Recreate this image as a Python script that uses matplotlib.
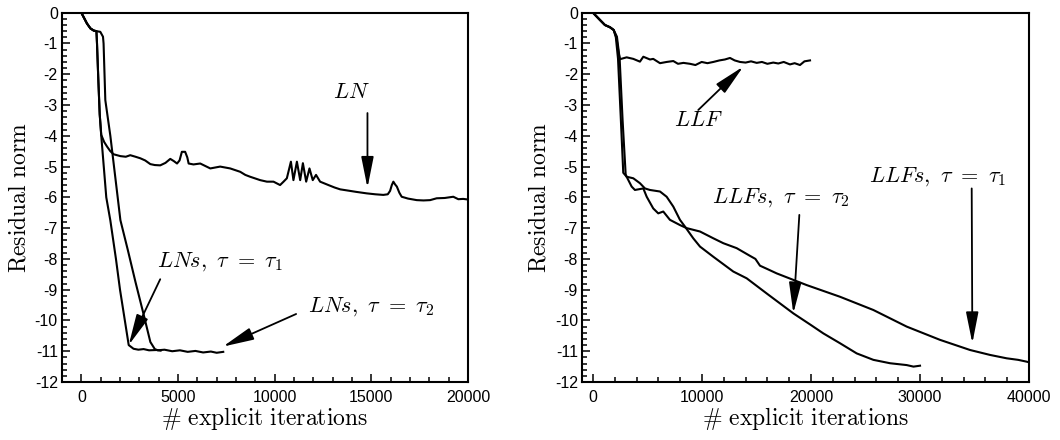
import matplotlib
matplotlib.use("Agg")
import matplotlib.pyplot as plt
from matplotlib.ticker import MultipleLocator

plt.rcParams['font.family'] = ['Liberation Sans', 'DejaVu Sans']
plt.rcParams['mathtext.fontset'] = 'cm'
plt.rcParams['axes.unicode_minus'] = False

# ---- left panel data ----
ln_x = [0, 290, 470, 640, 780, 810, 880, 950, 1030, 1180, 1330, 1500, 1670, 2020, 2300,
        2530, 2800, 3050, 3300, 3570, 3800, 4080, 4350, 4600, 4780, 4950, 5080, 5200, 5370,
        5480, 5550, 5800, 6150, 6670, 7180, 7700, 8220, 8480, 8730, 9250, 9600, 9940, 10280,
        10460, 10630, 10840, 10970, 11150, 11320, 11460, 11630, 11800, 11970, 12140, 12350,
        12780, 13100, 13390, 13800, 14200, 14760, 15200, 15620, 15850, 15970, 16060, 16140,
        16230, 16320, 16450, 16570, 16900, 17350, 17700, 18040, 18380, 18800, 19240, 19500,
        19750, 20000]
ln_y = [0, -0.35, -0.51, -0.58, -0.6, -1.0, -2.2, -3.3, -3.97, -4.2, -4.35, -4.5, -4.6,
        -4.66, -4.68, -4.63, -4.68, -4.73, -4.8, -4.92, -4.95, -4.96, -4.88, -4.75, -4.82,
        -4.9, -4.8, -4.52, -4.52, -4.7, -4.9, -4.93, -4.9, -5.06, -5.0, -5.06, -5.17, -5.27,
        -5.33, -5.44, -5.49, -5.49, -5.6, -5.49, -5.38, -4.84, -5.44, -4.84, -5.44, -4.89,
        -5.49, -5.06, -5.44, -5.27, -5.49, -5.6, -5.68, -5.74, -5.78, -5.82, -5.87, -5.9,
        -5.92, -5.9, -5.79, -5.6, -5.49, -5.58, -5.65, -5.85, -5.98, -6.04, -6.09, -6.1,
        -6.09, -6.03, -6.02, -5.98, -6.06, -6.05, -6.07]

lns1_x = [0, 290, 470, 640, 780, 810, 880, 950, 1030, 1290, 1500, 1790, 2000, 2250, 2450,
          2700, 2950, 3220, 3500, 3910, 4100]
lns1_y = [0, -0.35, -0.51, -0.58, -0.6, -1.0, -2.2, -3.3, -4.0, -6.0, -6.75, -8.0, -9.0,
          -10.0, -10.8, -10.92, -10.95, -10.93, -10.97, -10.96, -10.98]

lns2_x = [0, 290, 470, 640, 780, 980, 1120, 1150, 1240, 1500, 1880, 2020, 2400, 2800,
          3200, 3570, 3800, 3950, 4300, 4700, 5100, 5500, 5900, 6300, 6700, 7000, 7340]
lns2_y = [0, -0.35, -0.51, -0.58, -0.6, -0.62, -0.78, -1.0, -2.84, -4.0, -6.0, -6.74,
          -7.7, -8.75, -9.75, -10.7, -10.93, -10.97, -10.95, -11.0, -10.97, -11.02, -10.99,
          -11.04, -11.01, -11.05, -11.02]

# ---- right panel data ----
llf_x = [0, 600, 1100, 1550, 1900, 2150, 2350, 2480, 3090, 3700, 4310, 4620, 5230, 5530,
         6150, 6760, 7370, 7800, 8300, 8900, 9400, 9970, 10500, 11040, 11600, 12100, 12570,
         13000, 13490, 14000, 14500, 15020, 15500, 16000, 16540, 17000, 17500, 18070, 18500,
         18990, 19400, 19910]
llf_y = [0, -0.22, -0.4, -0.47, -0.56, -0.8, -1.3, -1.51, -1.45, -1.5, -1.59, -1.43,
         -1.52, -1.5, -1.64, -1.6, -1.57, -1.66, -1.63, -1.66, -1.70, -1.60, -1.64, -1.60,
         -1.55, -1.52, -1.47, -1.55, -1.60, -1.62, -1.58, -1.63, -1.60, -1.66, -1.62, -1.65,
         -1.60, -1.68, -1.64, -1.70, -1.58, -1.55]

llfs2_x = [0, 600, 1100, 1550, 1900, 2100, 2300, 2550, 2780, 3090, 3700, 4310, 4770, 5230,
           6150, 6760, 7370, 7980, 8440, 9200, 9820, 11040, 12870, 14100, 16000, 18380,
           20000, 21130, 22660, 24190, 25720, 27250, 28780, 29400, 30000]
llfs2_y = [0, -0.22, -0.4, -0.47, -0.56, -0.8, -1.5, -3.4, -5.2, -5.33, -5.38, -5.54,
           -5.71, -5.76, -5.81, -5.98, -6.30, -6.73, -6.95, -7.33, -7.60, -7.93, -8.41,
           -8.63, -9.14, -9.77, -10.15, -10.42, -10.74, -11.07, -11.28, -11.39, -11.45,
           -11.5, -11.47]

llfs1_x = [0, 600, 1100, 1550, 1900, 2200, 2450, 2720, 3000, 3090, 3550, 3850, 4620, 4930,
           5530, 5990, 6450, 7060, 7980, 8600, 9820, 11040, 11960, 13180, 14400, 14900,
           15320, 16000, 16850, 19600, 22660, 25720, 28780, 31830, 34590, 36420, 37950,
           39000, 39790, 40000]
llfs1_y = [0, -0.22, -0.4, -0.47, -0.56, -0.78, -1.5, -3.5, -5.25, -5.33, -5.65, -5.76,
           -5.71, -5.98, -6.36, -6.52, -6.46, -6.73, -6.90, -7.00, -7.11, -7.33, -7.49,
           -7.65, -7.90, -8.0, -8.22, -8.33, -8.47, -8.85, -9.23, -9.66, -10.2, -10.63,
           -10.96, -11.12, -11.23, -11.28, -11.34, -11.36]

fig = plt.figure(figsize=(10.6, 4.4), dpi=100)
ax1 = fig.add_axes([0.0585, 0.1318, 0.3830, 0.8393])
ax2 = fig.add_axes([0.5491, 0.1318, 0.4217, 0.8393])

lw = 1.5
ax1.plot(ln_x, ln_y, color='k', lw=lw)
ax1.plot(lns1_x, lns1_y, color='k', lw=lw)
ax1.plot(lns2_x, lns2_y, color='k', lw=lw)

ax2.plot(llf_x, llf_y, color='k', lw=lw)
ax2.plot(llfs2_x, llfs2_y, color='k', lw=lw)
ax2.plot(llfs1_x, llfs1_y, color='k', lw=lw)

ax1.set_xlim(-1000, 20000)
ax2.set_xlim(-1000, 40000)
ax1.xaxis.set_major_locator(MultipleLocator(5000))
ax1.xaxis.set_minor_locator(MultipleLocator(1000))
ax2.xaxis.set_major_locator(MultipleLocator(10000))
ax2.xaxis.set_minor_locator(MultipleLocator(2000))

for ax in (ax1, ax2):
    ax.set_ylim(-12, 0)
    ax.yaxis.set_major_locator(MultipleLocator(1))
    ax.yaxis.set_minor_locator(MultipleLocator(0.2))
    ax.tick_params(which='both', direction='in', top=False, right=False,
                   labelsize=11.5, width=1.1)
    ax.tick_params(which='major', length=6)
    ax.tick_params(which='minor', length=3.5)
    ax.tick_params(axis='x', pad=6)
    ax.tick_params(axis='y', pad=3)
    for s in ax.spines.values():
        s.set_linewidth(1.5)
    ax.set_xlabel(r'$\#\ \mathrm{explicit\ iterations}$', fontsize=17, labelpad=0)
    ax.set_ylabel(r'$\mathrm{Residual\ norm}$', fontsize=17, labelpad=3)

arrow = dict(arrowstyle='-|>,head_length=1.9,head_width=0.38', color='k', lw=1.3,
             shrinkA=0, shrinkB=0, mutation_scale=10)
fs = 16

ax1.annotate('', xy=(14800, -5.69), xytext=(14800, -3.26), arrowprops=arrow)
ax1.text(13950, -2.58, r'$LN$', fontsize=fs, ha='center', va='center')
ax1.annotate('', xy=(2450, -10.8), xytext=(4080, -8.66), arrowprops=arrow)
ax1.text(7180, -8.1, r'$LNs,\ \tau\ =\ \tau_1$', fontsize=fs, ha='center', va='center')
ax1.annotate('', xy=(7320, -10.85), xytext=(11110, -9.79), arrowprops=arrow)
ax1.text(15010, -9.56, r'$LNs,\ \tau\ =\ \tau_2$', fontsize=fs, ha='center', va='center')

ax2.annotate('', xy=(13790, -1.75), xytext=(9660, -3.16), arrowprops=arrow)
ax2.text(9630, -3.49, r'$LLF$', fontsize=fs, ha='center', va='center')
ax2.annotate('', xy=(18380, -9.77), xytext=(18930, -6.57), arrowprops=arrow)
ax2.text(17250, -6.02, r'$LLFs,\ \tau\ =\ \tau_2$', fontsize=fs, ha='center', va='center')
ax2.annotate('', xy=(34800, -10.74), xytext=(34740, -5.71), arrowprops=arrow)
ax2.text(31650, -5.33, r'$LLFs,\ \tau\ =\ \tau_1$', fontsize=fs, ha='center', va='center')

fig.savefig('out.png', dpi=100)
